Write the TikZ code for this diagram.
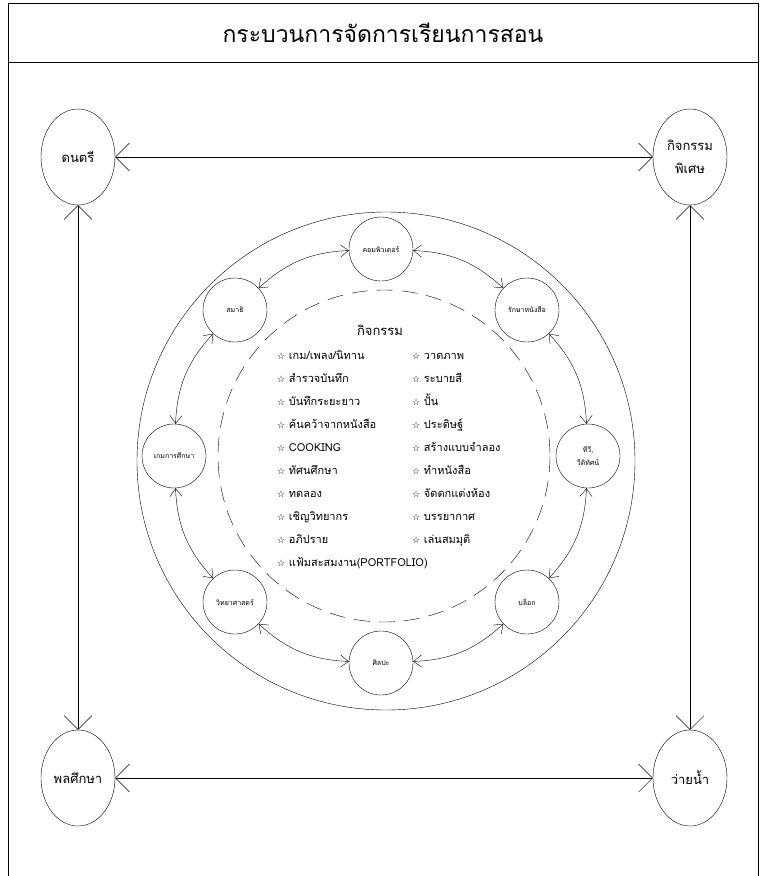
\documentclass[tikz,border=0pt]{standalone}
\usepackage{fontspec}
\setmainfont[Script=Thai]{Loma}
\newfontfamily\symfont{DejaVu Sans}
\usetikzlibrary{arrows.meta,shapes.geometric}
\newcommand{\tick}{{\symfont\fontsize{9}{9}\selectfont ☆}}

\begin{document}
\begin{tikzpicture}[x=1pt,y=-1pt,
    corner/.style={draw,ellipse,minimum width=74pt,minimum height=96pt,inner sep=0pt,align=center,font=\fontsize{13}{15}\selectfont},
    centre/.style={draw,circle,minimum size=64pt,inner sep=0pt,align=center,font=\fontsize{7}{13}\selectfont},
    biglink/.style={{Straight Barb[length=14pt,width=28pt]}-{Straight Barb[length=14pt,width=28pt]}},
    link/.style={{Straight Barb[length=8pt,width=12pt]}-{Straight Barb[length=8pt,width=12pt]},bend left=20},
  ]
  \useasboundingbox (0,0) rectangle (762,876);
  % frame and title
  \draw (8,876) -- (8,3) -- (758,3) -- (758,876);
  \draw (8,62) -- (758,62);
  \node[font=\fontsize{23}{25}\selectfont] (title) at (383,33) {กระบวนการจัดการเรียนการสอน};

  % four corners
  \node[corner] (dontri) at (78,157) {ดนตรี};
  \node[corner] (pises) at (690,157) {กิจกรรม\\[8pt]พิเศษ};
  \node[corner] (palasuksa) at (78,778) {พลศึกษา};
  \node[corner] (wainam) at (690,778) {ว่ายน้ำ};
  \draw[biglink] (dontri) -- (pises);
  \draw[biglink] (palasuksa) -- (wainam);
  \draw[biglink] (dontri) -- (palasuksa);
  \draw[biglink] (pises) -- (wainam);

  % rings
  \draw (386,461) circle[radius=249];
  \draw[dash pattern=on 16pt off 9pt] (384,456) circle[radius=166];

  % centres round the ring
  \node[centre] (komp) at (381,249) {คอมพิวเตอร์};
  \node[centre] (raksa) at (527,310) {รักษาหนังสือ};
  \node[centre] (tv) at (588,456) {ทีวี,\\วีดิทัศน์};
  \node[centre] (block) at (527,602) {บล็อก};
  \node[centre] (sinlapa) at (381,663) {ศิลปะ};
  \node[centre] (wit) at (235,602) {วิทยาศาสตร์};
  \node[centre] (game) at (174,456) {เกมการศึกษา};
  \node[centre] (samathi) at (235,310) {สมาธิ};
  \draw[link] (komp) to (raksa);
  \draw[link] (raksa) to (tv);
  \draw[link] (tv) to (block);
  \draw[link] (block) to (sinlapa);
  \draw[link] (sinlapa) to (wit);
  \draw[link] (wit) to (game);
  \draw[link] (game) to (samathi);
  \draw[link] (samathi) to (komp);

  % activities
  \node[font=\fontsize{13}{15}\selectfont] (head) at (380,330) {กิจกรรม};
  \node[anchor=north west,inner sep=0pt,font=\fontsize{11}{23}\selectfont] (list) at (277,343) {%
    \begin{tabular}{@{}p{135pt}@{}l@{}}
      \tick\ เกม/เพลง/นิทาน & \tick\ วาดภาพ\\
      \tick\ สำรวจบันทึก & \tick\ ระบายสี\\
      \tick\ บันทึกระยะยาว & \tick\ ปั้น\\
      \tick\ ค้นคว้าจากหนังสือ & \tick\ ประดิษฐ์\\
      \tick\ COOKING & \tick\ สร้างแบบจำลอง\\
      \tick\ ทัศนศึกษา & \tick\ ทำหนังสือ\\
      \tick\ ทดลอง & \tick\ จัดตกแต่งห้อง\\
      \tick\ เชิญวิทยากร & \tick\ บรรยากาศ\\
      \tick\ อภิปราย & \tick\ เล่นสมมุติ\\
      \multicolumn{2}{@{}l@{}}{\tick\ แฟ้มสะสมงาน(PORTFOLIO)}
    \end{tabular}};
\end{tikzpicture}
\end{document}
